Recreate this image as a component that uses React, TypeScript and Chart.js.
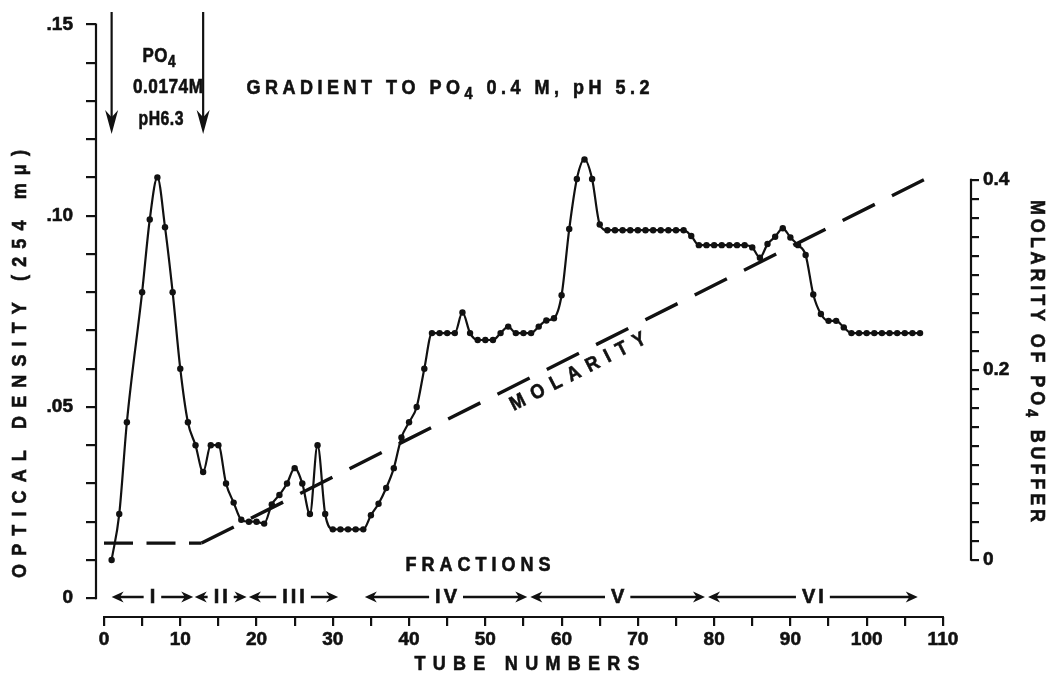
import React, { useEffect, useRef } from "react";
import { Chart, registerables } from "chart.js";

Chart.register(...registerables);

// ---------------- data ----------------
const tubeNumbers = [
  1, 2, 3, 5, 6, 7, 8, 9, 10, 11, 12, 13, 14, 15, 16, 17, 18, 19,
  20, 21, 22, 23, 24, 25, 26, 27, 28, 29, 30, 31, 32, 33, 34, 35, 36, 37, 38, 39,
  40, 41, 42, 43, 44, 45, 46, 47, 48, 49, 50, 51, 52, 53, 54, 55, 56, 57, 58, 59, 60,
  61, 62, 63, 64, 65, 66, 67, 68, 69, 70, 71, 72, 73, 74, 75, 76,
  77, 78, 79, 80, 81, 82, 83, 84,
  85, 86, 87, 88, 89, 90, 91, 92, 93, 94, 95, 96, 97, 98, 99, 100, 101, 102, 103, 104, 105, 106, 107,
];

const opticalDensity = [
  0.010, 0.022, 0.046, 0.080, 0.099, 0.110, 0.097, 0.080, 0.060, 0.046, 0.040, 0.033, 0.040, 0.040, 0.030, 0.025, 0.0205, 0.020,
  0.020, 0.0195, 0.0245, 0.027, 0.030, 0.034, 0.030, 0.022, 0.040, 0.022, 0.018, 0.018, 0.018, 0.018, 0.018, 0.0217, 0.0247, 0.0288, 0.034, 0.042,
  0.046, 0.050, 0.060, 0.0693, 0.0693, 0.0693, 0.0693, 0.0747, 0.0693, 0.0675, 0.0675, 0.0675, 0.0693, 0.071, 0.0693, 0.0693, 0.0693, 0.071, 0.0726, 0.0732, 0.0792,
  0.0965, 0.1096, 0.1147, 0.1096, 0.0977, 0.0962, 0.0962, 0.0962, 0.0962, 0.0962, 0.0962, 0.0962, 0.0962, 0.0962, 0.0962, 0.0962,
  0.0947, 0.0923, 0.0923, 0.0923, 0.0923, 0.0923, 0.0923, 0.0923,
  0.0917, 0.089, 0.0926, 0.0945, 0.0967, 0.0943, 0.0923, 0.0897, 0.0794, 0.0743, 0.0725, 0.0725, 0.0708, 0.0693, 0.0693, 0.0693, 0.0693, 0.0693, 0.0693, 0.0693, 0.0693, 0.0693, 0.0693,
];

const molarityTubes = [0, 12.8, 107.5];
const molarityValues = [0.0174, 0.0174, 0.4];

const xTickValues = [0, 5, 10, 15, 20, 25, 30, 35, 40, 45, 50, 55, 60, 65, 70, 75, 80, 85, 90, 95, 100, 105, 110];
const xLabelValues = [0, 10, 20, 30, 40, 50, 60, 70, 80, 90, 100, 110];
const xLabelTexts = ["0", "10", "20", "30", "40", "50", "60", "70", "80", "90", "100", "110"];

const odTickValues = [0, 0.01, 0.02, 0.03, 0.04, 0.05, 0.06, 0.07, 0.08, 0.09, 0.1, 0.11, 0.12, 0.13, 0.14, 0.15];
const odLabelValues = [0, 0.05, 0.1, 0.15];
const odLabelTexts = ["0", ".05", ".10", ".15"];

const molTickValues = [0, 0.02, 0.04, 0.06, 0.08, 0.1, 0.12, 0.14, 0.16, 0.18, 0.2, 0.22, 0.24, 0.26, 0.28, 0.3, 0.32, 0.34, 0.36, 0.38, 0.4];
const molLabelValues = [0, 0.2, 0.4];
const molLabelTexts = ["0", "0.2", "0.4"];

const fractionLabels = ["I", "II", "III", "IV", "V", "VI"];
const fractionStart = [1, 11.9, 19, 34.2, 55.9, 79.2];
const fractionEnd = [11.7, 18.7, 30.7, 55.5, 78.8, 106.7];

const bufferChangeTubes = [1, 13];

// ---------------- styling ----------------
const FONT = '"Liberation Sans", "DejaVu Sans", Arial, sans-serif';
const INK = "#111";

function labelFor(values: number[], texts: string[], v: number) {
  const i = values.findIndex((t) => Math.abs(t - v) < 1e-9);
  return i >= 0 ? texts[i] : "";
}

function drawSpaced(
  ctx: CanvasRenderingContext2D,
  text: string,
  cx: number,
  cy: number,
  width: number,
  size: number,
  angle = 0,
  sx = 0.9
) {
  const normal = `bold ${size}px ${FONT}`;
  const small = `bold ${Math.round(size * 0.8)}px ${FONT}`;
  ctx.save();
  ctx.translate(cx, cy);
  ctx.rotate(angle);
  ctx.fillStyle = INK;
  ctx.strokeStyle = INK;
  ctx.lineWidth = 0.6;
  ctx.textBaseline = "middle";
  ctx.textAlign = "left";
  const chars = Array.from(text);
  const widths = chars.map((c) => {
    if (c === "₄") {
      ctx.font = small;
      return ctx.measureText("4").width;
    }
    ctx.font = normal;
    return ctx.measureText(c).width;
  });
  const total = widths.reduce((a, b) => a + b, 0);
  let scale = sx;
  const minGap = 0.5;
  if (total * scale + (chars.length - 1) * minGap > width) {
    scale = (width - (chars.length - 1) * minGap) / total;
  }
  ctx.scale(scale, 1);
  const w = width / scale;
  const gap = chars.length > 1 ? (w - total) / (chars.length - 1) : 0;
  let x = -w / 2;
  chars.forEach((c, i) => {
    if (c === "₄") {
      ctx.font = small;
      ctx.fillText("4", x, size * 0.32);
      ctx.strokeText("4", x, size * 0.32);
    } else {
      ctx.font = normal;
      ctx.fillText(c, x, 0);
      ctx.strokeText(c, x, 0);
    }
    x += widths[i] + gap;
  });
  ctx.restore();
}

function arrowHead(ctx: CanvasRenderingContext2D, tx: number, ty: number, dx: number, dy: number, len: number, half: number) {
  const px = -dy;
  const py = dx;
  ctx.beginPath();
  ctx.moveTo(tx, ty);
  ctx.lineTo(tx - dx * len + px * half, ty - dy * len + py * half);
  ctx.lineTo(tx - dx * len * 0.7, ty - dy * len * 0.7);
  ctx.lineTo(tx - dx * len - px * half, ty - dy * len - py * half);
  ctx.closePath();
  ctx.fill();
}

const decorPlugin = {
  id: "decor",
  afterDraw(chart: any) {
    const ctx: CanvasRenderingContext2D = chart.ctx;
    const xs = chart.scales.x;
    const ys = chart.scales.y;
    const y2 = chart.scales.y2;
    const area = chart.chartArea;
    ctx.save();
    ctx.strokeStyle = INK;
    ctx.fillStyle = INK;
    ctx.lineWidth = 2.2;
    ctx.lineCap = "butt";

    // axis lines
    ctx.beginPath();
    ctx.moveTo(area.left, ys.getPixelForValue(0.15) - 1);
    ctx.lineTo(area.left, ys.getPixelForValue(0) + 1);
    ctx.moveTo(xs.getPixelForValue(0) - 1, area.bottom);
    ctx.lineTo(xs.getPixelForValue(110) + 1, area.bottom);
    ctx.moveTo(area.right, y2.getPixelForValue(0.4) - 1);
    ctx.lineTo(area.right, y2.getPixelForValue(0) + 1);
    ctx.stroke();

    // buffer change arrows
    bufferChangeTubes.forEach((t) => {
      const px = xs.getPixelForValue(t);
      ctx.lineWidth = 2.2;
      ctx.beginPath();
      ctx.moveTo(px, 12);
      ctx.lineTo(px, 118);
      ctx.stroke();
      arrowHead(ctx, px, 134, 0, 1, 24, 6.5);
    });

    // fraction arrows
    const fy = 597;
    fractionLabels.forEach((lab, i) => {
      const a = xs.getPixelForValue(fractionStart[i]);
      const b = xs.getPixelForValue(fractionEnd[i]);
      const mid = (a + b) / 2;
      ctx.font = `bold 20px ${FONT}`;
      const w = ctx.measureText(lab).width + (lab.length - 1) * 3;
      ctx.lineWidth = 2.6;
      const l1 = mid - w / 2 - 6;
      const r1 = mid + w / 2 + 6;
      ctx.beginPath();
      ctx.moveTo(a + 6, fy);
      ctx.lineTo(Math.max(a + 6, l1), fy);
      ctx.moveTo(Math.min(b - 6, r1), fy);
      ctx.lineTo(b - 6, fy);
      ctx.stroke();
      arrowHead(ctx, a, fy, -1, 0, 12, 5.5);
      arrowHead(ctx, b, fy, 1, 0, 12, 5.5);
      drawSpaced(ctx, lab, mid, fy, w, 20, 0, 1);
    });

    // texts
    drawSpaced(ctx, "PO₄", 159, 56, 33, 20);
    drawSpaced(ctx, "0.0174M", 168, 87, 70, 20);
    drawSpaced(ctx, "pH6.3", 161, 119, 45, 20);
    drawSpaced(ctx, "GRADIENT TO PO₄ 0.4 M, pH 5.2", 448, 88, 403, 20);
    drawSpaced(ctx, "FRACTIONS", 478, 565, 145, 20);
    drawSpaced(ctx, "TUBE NUMBERS", 527, 664, 225, 20);
    drawSpaced(ctx, "MOLARITY", 578, 372, 150, 20, (-27 * Math.PI) / 180);
    drawSpaced(ctx, "OPTICAL DENSITY (254 mμ)", 20, 364, 428, 20, -Math.PI / 2);
    drawSpaced(ctx, "MOLARITY OF PO₄ BUFFER", 1037, 361, 322, 20, Math.PI / 2);
    ctx.restore();
  },
};

export default function App() {
  const canvasRef = useRef<HTMLCanvasElement | null>(null);

  useEffect(() => {
    if (!canvasRef.current) return;
    const tickFont = { family: FONT, size: 19, weight: "bold" as const };
    const chart = new Chart(canvasRef.current, {
      type: "line",
      data: {
        datasets: [
          {
            label: "Optical density",
            data: tubeNumbers.map((t, i) => ({ x: t, y: opticalDensity[i] })),
            yAxisID: "y",
            borderColor: INK,
            backgroundColor: INK,
            borderWidth: 2.2,
            pointRadius: 3.2,
            pointBorderWidth: 0,
            pointBackgroundColor: INK,
            cubicInterpolationMode: "monotone",
            fill: false,
          },
          {
            label: "Molarity",
            data: molarityTubes.map((t, i) => ({ x: t, y: molarityValues[i] })),
            yAxisID: "y2",
            borderColor: INK,
            borderWidth: 3.4,
            pointRadius: 0,
            tension: 0,
            borderCapStyle: "butt",
            segment: {
              borderDash: (c: any) => (c.p0DataIndex === 0 ? [29, 13.5] : [36, 19.2]),
            },
            fill: false,
          },
        ],
      },
      options: {
        animation: false,
        responsive: false,
        devicePixelRatio: 1,
        layout: { padding: { top: 18, left: 0, right: 0, bottom: 0 } },
        plugins: {
          legend: { display: false },
          tooltip: { enabled: false },
          title: { display: false },
        },
        scales: {
          x: {
            type: "linear",
            min: -1.049,
            max: 113.68,
            afterBuildTicks: (s: any) => {
              s.ticks = xTickValues.map((v) => ({ value: v }));
            },
            afterFit: (s: any) => {
              s.height = 64;
            },
            border: { display: false },
            grid: { drawOnChartArea: false, drawTicks: true, tickLength: 9, color: INK, lineWidth: 2.2 },
            ticks: {
              autoSkip: false,
              maxRotation: 0,
              minRotation: 0,
              padding: 2,
              color: INK,
              font: tickFont,
              textStrokeColor: INK,
              textStrokeWidth: 0.6,
              callback: (v: any) => labelFor(xLabelValues, xLabelTexts, Number(v)),
            },
          },
          y: {
            type: "linear",
            position: "left",
            min: -0.00491,
            max: 0.15,
            afterBuildTicks: (s: any) => {
              s.ticks = odTickValues.map((v) => ({ value: v }));
            },
            afterFit: (s: any) => {
              s.width = 96;
            },
            border: { display: false },
            grid: { drawOnChartArea: false, drawTicks: true, tickLength: 10, color: INK, lineWidth: 2.2 },
            ticks: {
              autoSkip: false,
              padding: 13,
              color: INK,
              font: tickFont,
              textStrokeColor: INK,
              textStrokeWidth: 0.6,
              callback: (v: any) => labelFor(odLabelValues, odLabelTexts, Number(v)),
            },
          },
          y2: {
            type: "linear",
            position: "right",
            min: -0.0604,
            max: 0.5635,
            afterBuildTicks: (s: any) => {
              s.ticks = molTickValues.map((v) => ({ value: v }));
            },
            afterFit: (s: any) => {
              s.width = 79;
            },
            border: { display: false },
            grid: { drawOnChartArea: false, drawTicks: true, tickLength: 8, color: INK, lineWidth: 2.2 },
            ticks: {
              autoSkip: false,
              padding: 4,
              color: INK,
              font: tickFont,
              textStrokeColor: INK,
              textStrokeWidth: 0.6,
              callback: (v: any) => labelFor(molLabelValues, molLabelTexts, Number(v)),
            },
          },
        },
      },
      plugins: [decorPlugin],
    } as any);
    return () => chart.destroy();
  }, []);

  return (
    <div style={{ position: "absolute", left: 0, top: 0, width: 1050, height: 681, background: "#fff" }}>
      <canvas ref={canvasRef} width={1050} height={681} style={{ display: "block" }} />
    </div>
  );
}
